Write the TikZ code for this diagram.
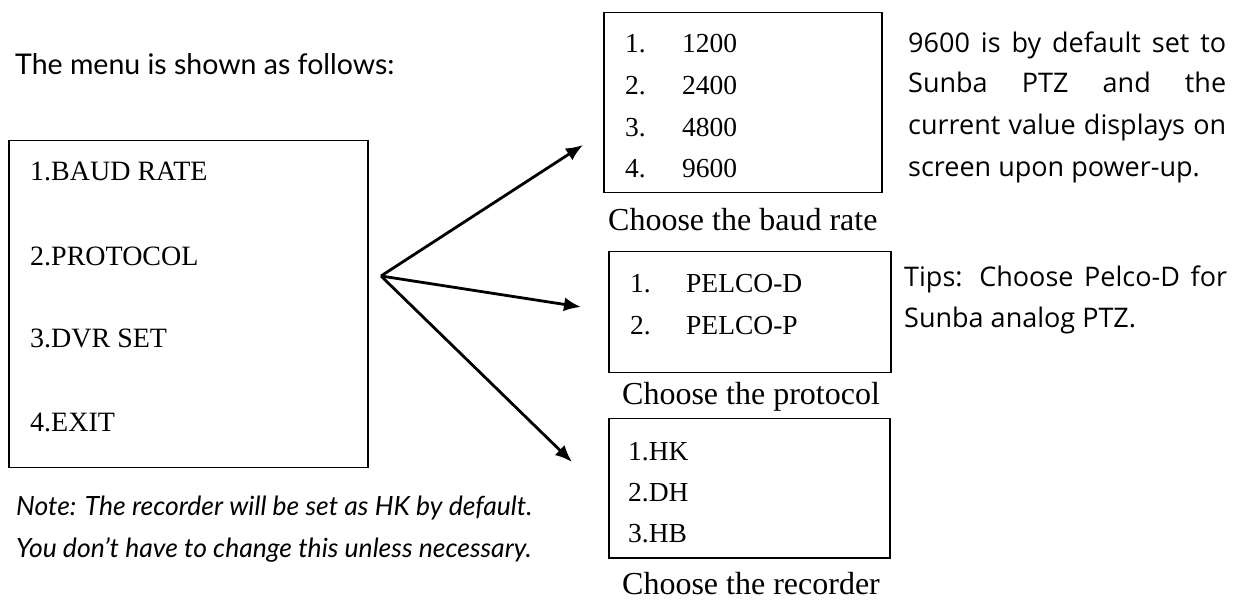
\documentclass[tikz,border=0pt]{standalone}
\usepackage{fontspec}
\setmainfont{Liberation Serif}
\newfontfamily\latofont{Lato}
\newfontfamily\rfont{Open Sans}
\usetikzlibrary{arrows.meta}
\begin{document}
\begin{tikzpicture}[x=1pt,y=-1pt,
  box/.style={draw, line width=1.5pt, inner sep=0pt, anchor=north west},
  item/.style={anchor=base west, inner sep=0pt, font=\fontsize{27.5}{30}\selectfont},
  menuitem/.style={anchor=base west, inner sep=0pt, font=\fontsize{28}{30}\selectfont},
  caption/.style={anchor=base west, inner sep=0pt, font=\fontsize{32}{34}\selectfont},
  heading/.style={anchor=base west, inner sep=0pt, font=\latofont\fontsize{28.5}{34}\selectfont},
  note/.style={anchor=base west, inner sep=0pt, font=\latofont\itshape\fontsize{26.5}{28}\selectfont},
  side/.style={anchor=base west, inner sep=0pt, font=\rfont\fontsize{27}{30}\selectfont},
  conn/.style={line width=2.8pt, -{Latex[length=17pt,width=14pt]}}]
\useasboundingbox (0,0) rectangle (1243,601);

% heading
\node[heading] (head) at (15,75) {The menu is shown as follows:};

% main menu
\node[box, minimum width=359pt, minimum height=327pt] (menu) at (8,140) {};
\node[menuitem] (m1) at (30,181) {1.BAUD RATE};
\node[menuitem] (m2) at (30,266) {2.PROTOCOL};
\node[menuitem] (m3) at (30,348) {3.DVR SET};
\node[menuitem] (m4) at (30,432) {4.EXIT};

% note
\node[note] (n1) at (16,515) {Note: The recorder will be set as HK by default.};
\node[note] (n2) at (16,557) {You don’t have to change this unless necessary.};

% baud box
\node[box, minimum width=278pt, minimum height=180pt] (baud) at (603,12) {};
\node[item] (b1a) at (625,53) {1.};  \node[item] (b1b) at (682,53) {1200};
\node[item] (b2a) at (625,95) {2.};  \node[item] (b2b) at (682,95) {2400};
\node[item] (b3a) at (625,137) {3.}; \node[item] (b3b) at (682,137) {4800};
\node[item] (b4a) at (625,178) {4.}; \node[item] (b4b) at (682,178) {9600};
\node[caption] (cb) at (608,231) {Choose the baud rate};

% baud side text
\node[side] (s1) at (908,53) {\makebox[318pt][s]{9600 is by default set to}};
\node[side] (s2) at (908,93) {\makebox[318pt][s]{Sunba PTZ and the}};
\node[side] (s3) at (908,135) {\makebox[318pt][s]{current value displays on}};
\node[side] (s4) at (908,177) {screen upon power-up.};

% protocol box
\node[box, minimum width=282pt, minimum height=121pt] (proto) at (608,251) {};
\node[item] (p1a) at (630,293) {1.}; \node[item] (p1b) at (686,293) {PELCO-D};
\node[item] (p2a) at (630,335) {2.}; \node[item] (p2b) at (686,335) {PELCO-P};
\node[caption] (cp) at (622,405) {Choose the protocol};

% tips
\node[side] (t1) at (904,287) {\makebox[323pt][s]{Tips: Choose Pelco-D for}};
\node[side] (t2) at (904,328) {Sunba analog PTZ.};

% recorder box
\node[box, minimum width=281pt, minimum height=139pt] (rec) at (608,418) {};
\node[item] (r1) at (628,461) {1.HK};
\node[item] (r2) at (628,502) {2.DH};
\node[item] (r3) at (628,543) {3.HB};
\node[caption] (cr) at (622,594) {Choose the recorder};

% arrows
\coordinate (o) at (381,276);
\coordinate (a1) at (583,145);
\coordinate (a2) at (581,307);
\coordinate (a3) at (572,462);
\draw[conn] (o) -- (a1);
\draw[conn] (o) -- (a2);
\draw[conn] (o) -- (a3);
\end{tikzpicture}
\end{document}
